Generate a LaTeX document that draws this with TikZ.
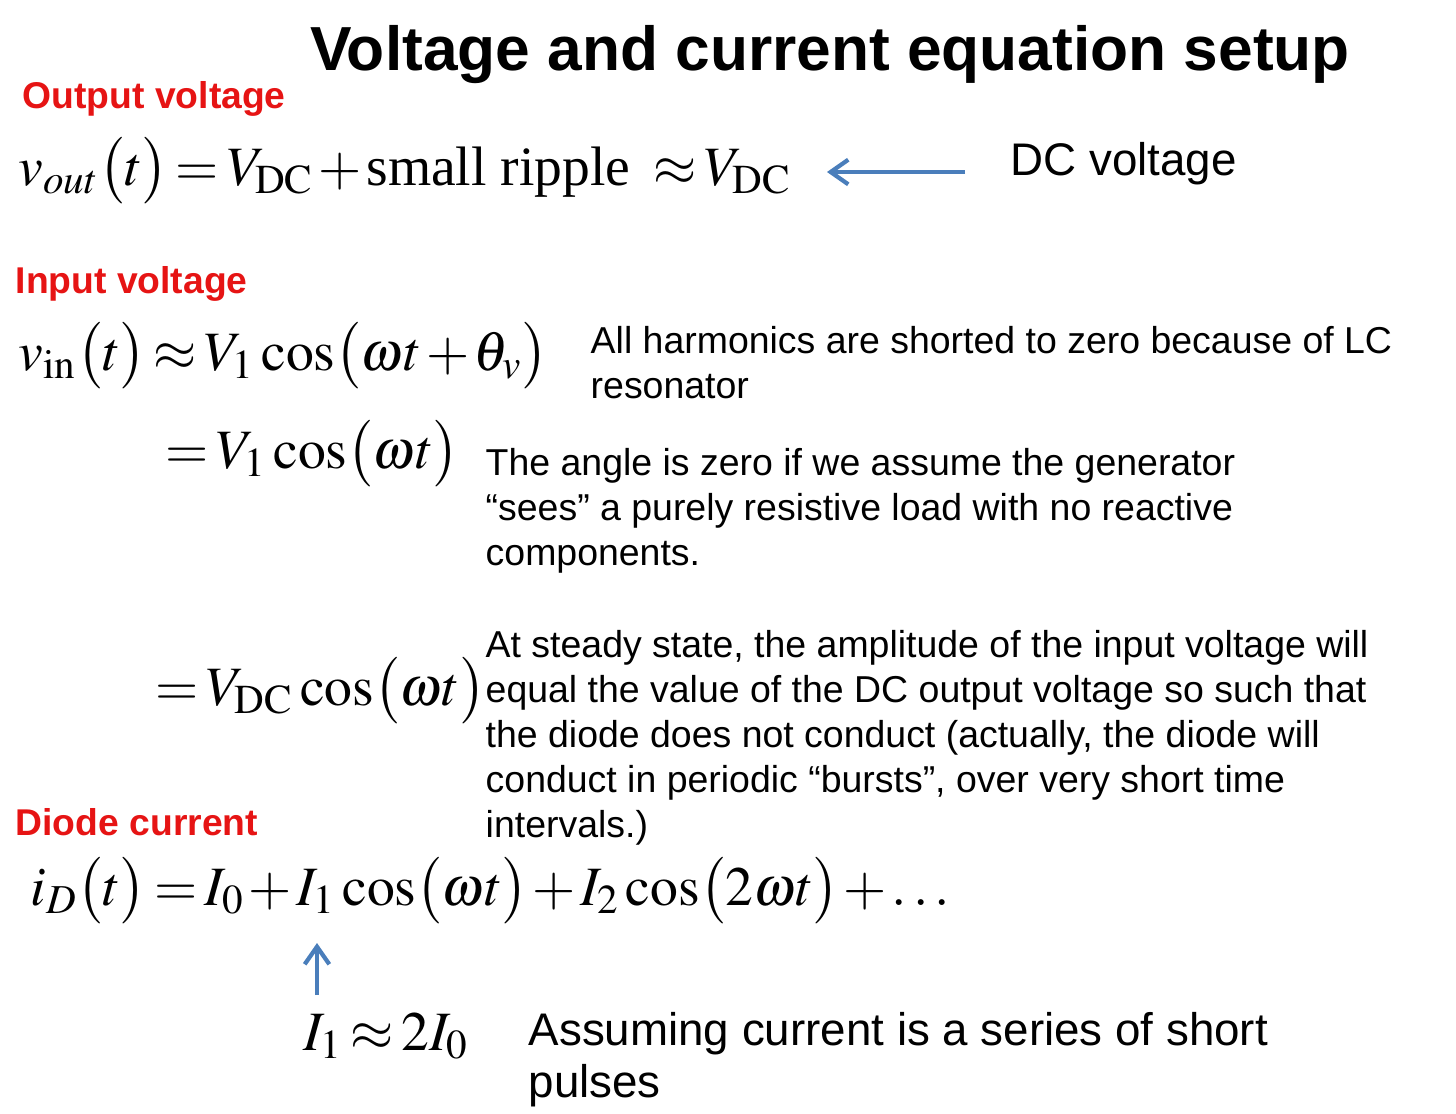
\documentclass[tikz,border=0pt]{standalone}
\usepackage{mathptmx}
\usepackage[no-math]{fontspec}
\setmainfont{Liberation Sans}
\newfontfamily\eqrm{Liberation Serif}
\usetikzlibrary{arrows.meta}
\definecolor{lbl}{RGB}{230,20,20}
\definecolor{arr}{RGB}{74,126,187}
\newcommand{\pl}{\bigl(}
\newcommand{\pr}{\bigr)}
\medmuskip=1.5mu plus 1mu\relax
\thickmuskip=2.5mu plus 1mu\relax
\begin{document}
\begin{tikzpicture}[x=0.01cm,y=-0.01cm,
  lab/.style={anchor=base west,inner sep=0,text=lbl,font=\fontsize{10.6}{12}\selectfont\bfseries},
  txt/.style={anchor=north west,inner sep=0,align=left,font=\fontsize{10.65}{12.8}\selectfont},
  eq/.style={anchor=base west,inner sep=0,font=\fontsize{15.8}{22}\selectfont},
  arrw/.style={draw=arr,line width=1.2pt,-{Straight Barb[length=5pt,width=7pt]}}]
\useasboundingbox (0,0) rectangle (1456,1114);
\node[anchor=base,inner sep=0,font=\fontsize{17.7}{22}\selectfont\bfseries] (title) at (830,70) {Voltage and current equation setup};
\node[lab] (l1) at (22,108) {Output voltage};
\node[eq] (e1) at (18,185) {$v_{out}\pl t\pr=V_{\mathrm{DC}}+\mbox{\eqrm small ripple}\;\;\approx V_{\mathrm{DC}}$};
\node[anchor=base west,inner sep=0,font=\fontsize{13}{14}\selectfont] (dc) at (1010,175) {DC voltage};
\coordinate (a1s) at (965,172); \coordinate (a1e) at (827,172);
\draw[arrw] (a1s) -- (a1e);
\node[lab] (l2) at (15,293) {Input voltage};
\node[eq] (e2) at (18,370) {$v_{\mathrm{in}}\pl t\pr\approx V_1\cos\pl\omega t+\theta_v\pr$};
\node[txt] (t2) at (590,326) {All harmonics are shorted to zero because of LC\\resonator};
\node[eq] (e3) at (165,468) {$=V_1\cos\pl\omega t\pr$};
\node[txt] (t3) at (485,448) {The angle is zero if we assume the generator\\``sees'' a purely resistive load with no reactive\\components.};
\node[eq] (e4) at (155,705) {$=V_{\mathrm{DC}}\cos\pl\omega t\pr$};
\node[txt] (t4) at (485,630) {At steady state, the amplitude of the input voltage will\\equal the value of the DC output voltage so such that\\the diode does not conduct (actually, the diode will\\conduct in periodic ``bursts'', over very short time\\intervals.)};
\node[lab] (l3) at (15,835) {Diode current};
\node[eq] (e5) at (30,905) {$i_D\pl t\pr=I_0+I_1\cos\pl\omega t\pr+I_2\cos\pl 2\omega t\pr+\ldots$};
\coordinate (a2s) at (317,995); \coordinate (a2e) at (317,943);
\draw[arrw] (a2s) -- (a2e);
\node[eq] (e6) at (303,1050) {$I_1\approx 2I_0$};
\node[txt,font=\fontsize{13}{14.8}\selectfont] (t6) at (528,1012) {Assuming current is a series of short\\pulses};
\end{tikzpicture}
\end{document}
